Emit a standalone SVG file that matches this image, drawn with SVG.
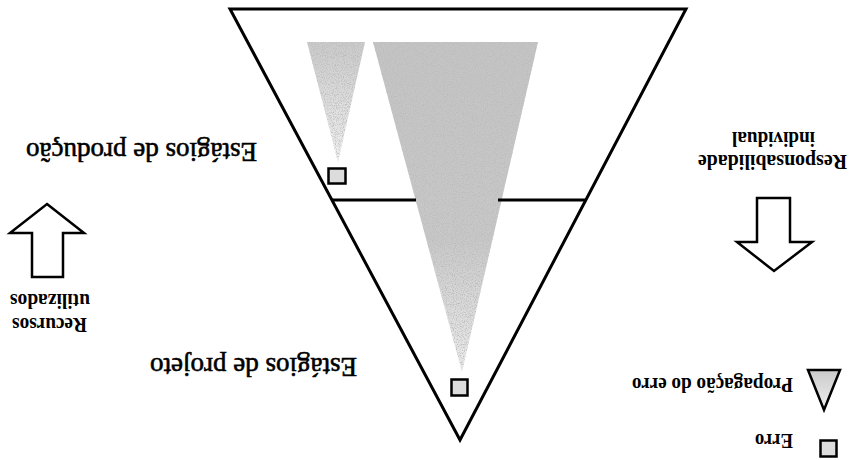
<svg xmlns="http://www.w3.org/2000/svg" width="851" height="460" viewBox="0 0 851 460">
  <style>
    .outline { fill: none; stroke: #000; stroke-width: 3; stroke-linejoin: miter; }
    .arrow { fill: #fff; stroke: #000; stroke-width: 2.5; stroke-linejoin: miter; }
    .err { fill: #dcdcdc; stroke: #000; stroke-width: 2.5; }
    .big { font-family: "Liberation Serif", "Times New Roman", serif; font-size: 27px; fill: #000; stroke: #000; stroke-width: 0.6; text-anchor: middle; }
    .small { font-family: "Liberation Serif", "Times New Roman", serif; font-size: 21px; font-weight: bold; fill: #000; text-anchor: middle; }
  </style>
  <defs>
    <linearGradient id="gBig" x1="0" y1="0" x2="0" y2="1">
      <stop offset="0" stop-color="#c4c4c4"/>
      <stop offset="0.6" stop-color="#c8c8c8"/>
      <stop offset="1" stop-color="#ececec"/>
    </linearGradient>
    <linearGradient id="gSmall" x1="0" y1="0" x2="0" y2="1">
      <stop offset="0" stop-color="#cacaca"/>
      <stop offset="1" stop-color="#f0f0f0"/>
    </linearGradient>
    <filter id="speckle" x="0" y="0" width="1" height="1">
      <feTurbulence type="fractalNoise" baseFrequency="0.9" numOctaves="2" seed="3" result="n"/>
      <feColorMatrix in="n" type="matrix" values="0 0 0 0 0.5  0 0 0 0 0.5  0 0 0 0 0.5  0 0 0 3 -1.35" result="dots"/>
      <feComposite in="dots" in2="SourceGraphic" operator="in" result="d2"/>
      <feMerge><feMergeNode in="SourceGraphic"/><feMergeNode in="d2"/></feMerge>
    </filter>
  </defs>

  <g id="shading" filter="url(#speckle)">
    <polygon points="373,42 538,42 462,372" fill="url(#gBig)"/>
    <polygon points="307,42 365,42 338,162" fill="url(#gSmall)"/>
  </g>

  <g id="funnel">
    <polygon class="outline" points="230,9 686,9 460,440"/>
  </g>

  <g id="connectors">
    <line x1="332" y1="200" x2="416" y2="200" stroke="#000" stroke-width="3"/>
    <line x1="498" y1="200" x2="585" y2="200" stroke="#000" stroke-width="3"/>
  </g>

  <g id="error-production">
    <rect class="err" x="328.5" y="168.5" width="17" height="15"/>
  </g>
  <g id="error-project">
    <rect class="err" x="451.5" y="379.5" width="16" height="16"/>
  </g>

  <g id="label-production">
    <text class="big" transform="translate(141.5,143) rotate(180)">Estágios de produção</text>
  </g>
  <g id="label-project">
    <text class="big" transform="translate(253.5,358) rotate(180)">Estágios de projeto</text>
  </g>

  <g id="arrow-resources">
    <polygon class="arrow" points="47,204 84,233 63,233 63,277 32,277 32,233 10,233"/>
    <text class="small" transform="translate(49.5,318) rotate(180)" textLength="75" lengthAdjust="spacingAndGlyphs">Recursos</text>
    <text class="small" transform="translate(50,294) rotate(180)" textLength="80" lengthAdjust="spacingAndGlyphs">utilizados</text>
  </g>

  <g id="arrow-responsibility">
    <polygon class="arrow" points="757,198 790,198 790,242 812,242 774,271 737,242 757,242"/>
    <text class="small" transform="translate(772.5,155) rotate(180)" textLength="149" lengthAdjust="spacingAndGlyphs">Responsabilidade</text>
    <text class="small" transform="translate(773.5,132) rotate(180)" textLength="83" lengthAdjust="spacingAndGlyphs">individual</text>
  </g>

  <g id="legend-propagation">
    <polygon points="808,370 840,370 824,410" fill="url(#gSmall)" stroke="#000" stroke-width="2.5"/>
    <text class="small" transform="translate(712.5,378) rotate(180)" textLength="161" lengthAdjust="spacingAndGlyphs">Propagação do erro</text>
  </g>

  <g id="legend-error">
    <rect class="err" x="820.5" y="440.5" width="16" height="16"/>
    <text class="small" transform="translate(774,434) rotate(180)" textLength="38" lengthAdjust="spacingAndGlyphs">Erro</text>
  </g>
</svg>
